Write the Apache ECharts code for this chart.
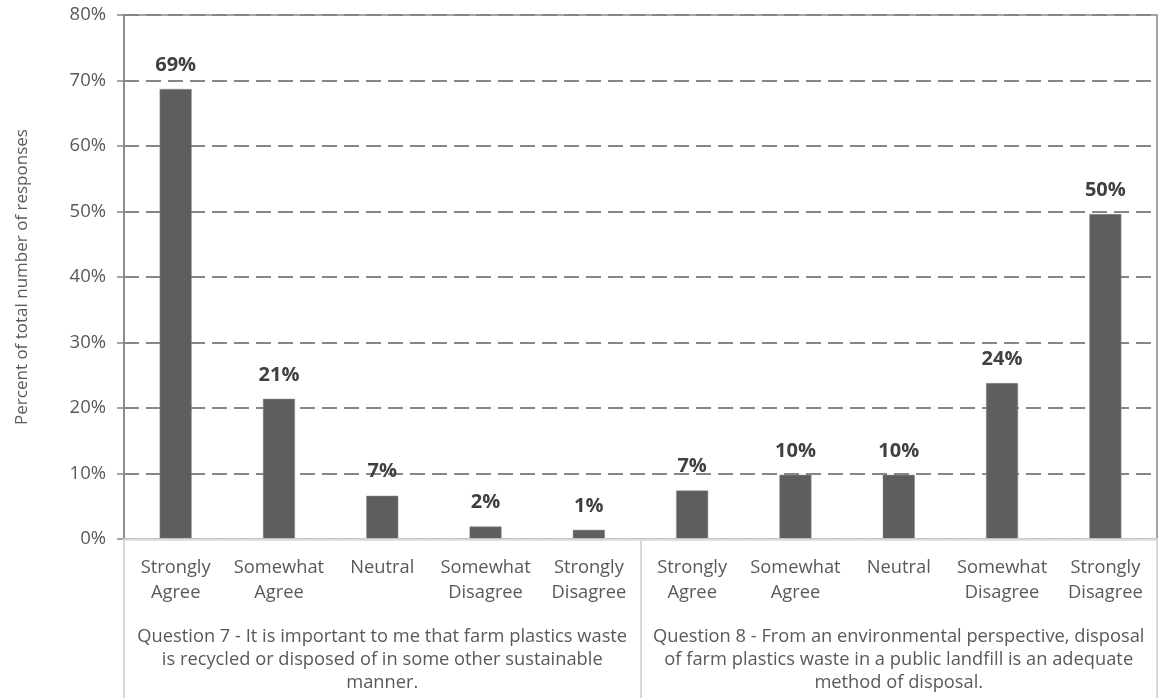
<!DOCTYPE html>
<html>
<head>
<meta charset="utf-8">
<script src="https://cdn.jsdelivr.net/npm/echarts@6/dist/echarts.min.js"></script>
<style>
html,body{margin:0;padding:0;background:#fff;}
#chart{width:1158px;height:698px;}
</style>
</head>
<body>
<div id="chart"></div>
<script>
const categories = [
  'Strongly\nAgree', 'Somewhat\nAgree', 'Neutral', 'Somewhat\nDisagree', 'Strongly\nDisagree',
  'Strongly\nAgree', 'Somewhat\nAgree', 'Neutral', 'Somewhat\nDisagree', 'Strongly\nDisagree'
];
const groups = [
  'Question 7 - It is important to me that farm plastics waste\nis recycled or disposed of in some other sustainable\nmanner.',
  'Question 8 - From an environmental perspective, disposal\nof farm plastics waste in a public landfill is an adequate\nmethod of disposal.'
];
const values = [68.7, 21.4, 6.6, 1.9, 1.4, 7.4, 9.8, 9.8, 23.8, 49.6];
const yTicks = { min: 0, max: 80, interval: 10 };
const yAxisName = 'Percent of total number of responses';

const FONT = '"Open Sans"';
const chart = echarts.init(document.getElementById('chart'), null, { renderer: 'canvas' });
chart.setOption({
  animation: false,
  backgroundColor: '#ffffff',
  grid: {
    left: 124, right: 1, top: 15, bottom: 159,
    show: true, borderColor: '#868686', borderWidth: 1.5, backgroundColor: 'transparent'
  },
  xAxis: [
    {
      type: 'category',
      data: categories,
      position: 'bottom',
      axisLine: { show: true, lineStyle: { color: '#d9d9d9', width: 2.5 } },
      axisTick: { show: false },
      axisLabel: {
        interval: 0, margin: 16, fontFamily: FONT, fontSize: 18.3,
        lineHeight: 25, color: '#595959'
      },
      z: 5
    },
    {
      type: 'category',
      data: groups,
      position: 'bottom',
      axisLine: { show: false },
      axisTick: { show: true, length: 160, lineStyle: { color: '#d9d9d9', width: 2 } },
      axisLabel: {
        interval: 0, margin: 86, fontFamily: FONT, fontSize: 18.3,
        lineHeight: 23, color: '#595959', align: 'center'
      }
    }
  ],
  yAxis: {
    type: 'value',
    min: yTicks.min, max: yTicks.max, interval: yTicks.interval,
    name: yAxisName,
    nameLocation: 'middle',
    nameGap: 93,
    nameTextStyle: { fontFamily: FONT, fontSize: 17, color: '#595959' },
    axisLine: { show: true, lineStyle: { color: '#868686', width: 1.5 } },
    axisTick: { show: true, length: 7, lineStyle: { color: '#868686', width: 1.5 } },
    axisLabel: {
      formatter: v => v + '%', margin: 18, fontFamily: FONT, fontSize: 18.5, color: '#595959'
    },
    splitLine: { show: true, lineStyle: { color: '#868686', width: 2, type: [15, 7] } }
  },
  series: [{
    type: 'bar',
    data: values,
    barWidth: 32,
    itemStyle: { color: '#5e5e5e', borderColor: '#8a8a8a', borderWidth: 0.5 },
    label: {
      show: true, position: 'top', distance: 14,
      formatter: p => Math.round(p.value) + '%',
      fontFamily: FONT, fontSize: 20, fontWeight: 'bold', color: '#404040'
    }
  }]
});
</script>
</body>
</html>
